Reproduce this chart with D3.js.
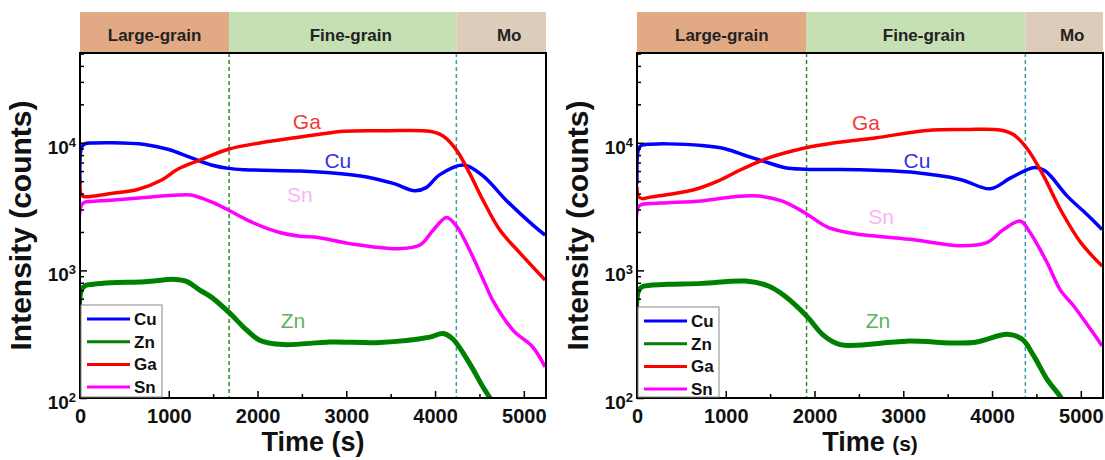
<!DOCTYPE html>
<meta charset="utf-8">
<script src="https://d3js.org/d3.v7.min.js"></script>
<style>
body { margin: 0; background: #fff; }
svg { display: block; font-family: 'Liberation Sans', Arial, sans-serif; }
.tick text { font-size: 20px; font-weight: bold; fill: #111; }
.band text { font-size: 17px; font-weight: bold; fill: #222; }
.legend text { font-size: 17px; font-weight: bold; fill: #111; }
.note { font-size: 21px; }
.axlabel { font-weight: bold; fill: #111; }
</style>
<svg width="1105" height="460"></svg>
<script>
// series names and colours shared by both panels
const seriesNames = ['Cu', 'Zn', 'Ga', 'Sn'];
const seriesColors = ['#0000ff', '#008000', '#ff0000', '#ff00ff'];
const noteColors = ['#3333dd', '#5db35d', '#f03a3a', '#f9b5f9'];
const zoneNames = ['Large-grain', 'Fine-grain', 'Mo'];
const zoneColors = ['#e2a985', '#c5e0b3', '#ddccba'];
const xTicks = [0, 1000, 2000, 3000, 4000, 5000];
const yTicks = [100, 1000, 10000];

// left panel, [time (s), counts]
const leftBounds = [1680, 4240];
const leftCu = [[0,4800],[20,9300],[60,9850],[150,9950],[350,10000],[730,9700],[990,8900],[1220,7800],[1480,6700],[1670,6300],[1860,6150],[2480,6000],[2850,5800],[3230,5400],[3530,4800],[3770,4200],[3900,4450],[4050,5600],[4320,6700],[4540,5500],[4800,3550],[5100,2270],[5240,1890]];
const leftZn = [[0,100],[15,700],[60,760],[150,780],[350,800],[730,813],[1070,850],[1200,820],[1350,700],[1480,617],[1690,460],[1860,350],[2030,282],[2290,262],[2820,275],[3380,272],[3940,300],[4090,320],[4200,290],[4390,186],[4540,122],[4620,100],[4660,90]];
const leftGa = [[0,5000],[15,3900],[50,3780],[150,3820],[350,4000],[650,4300],[920,5100],[1100,6200],[1370,7400],[1670,8900],[2040,10000],[2480,11100],[2680,11600],[2970,12300],[3420,12400],[3940,12300],[4090,11300],[4240,8800],[4390,5750],[4540,3550],[4730,2070],[4960,1360],[5240,840]];
const leftSn = [[0,100],[12,3200],[50,3420],[150,3480],[350,3550],[730,3730],[1100,3890],[1250,3890],[1480,3440],[1670,2970],[1930,2400],[2230,2000],[2480,1850],[2680,1810],[3040,1620],[3600,1480],[3830,1580],[3980,2070],[4130,2600],[4240,2230],[4390,1440],[4580,740],[4650,583],[4880,339],[5100,251],[5240,175]];

// right panel
const rightBounds = [1910, 4375];
const rightCu = [[0,4800],[25,9200],[70,9650],[150,9750],[350,9800],[730,9500],[990,8970],[1220,7950],[1480,6970],[1670,6370],[1890,6200],[2510,6150],[2680,6100],[3080,5890],[3640,5160],[3980,4360],[4210,5300],[4480,6400],[4600,6000],[4850,3800],[5070,2740],[5240,2090]];
const rightZn = [[0,100],[20,700],[70,750],[150,765],[350,777],[730,791],[1220,825],[1480,754],[1650,640],[1910,439],[2100,310],[2290,262],[3040,279],[3790,272],[4170,316],[4340,288],[4470,214],[4620,140],[4750,107],[4800,95]];
const rightGa = [[0,4500],[15,3800],[60,3650],[150,3750],[350,3930],[650,4300],[910,5000],[1180,6200],[1480,7600],[1890,9100],[2230,10000],[2680,10900],[3270,12500],[3700,12700],[4090,12600],[4240,11600],[4400,8900],[4580,5500],[4770,3000],[5000,1650],[5240,1080]];
const rightSn = [[0,100],[12,3100],[50,3280],[150,3340],[350,3390],[730,3500],[1100,3780],[1370,3820],[1630,3500],[1890,2830],[2160,2160],[2510,1910],[2680,1860],[3080,1750],[3640,1560],[3940,1650],[4130,2090],[4320,2430],[4430,1970],[4620,1150],[4770,700],[4920,526],[5110,345],[5240,256]];

// where the in-plot series names sit, [time, counts]
const leftNotes = [[2905,6340],[2400,353],[2556,12800],[2477,3430]];
const rightNotes = [[3155,6390],[2715,353],[2580,12700],[2750,2290]];

const panels = [
  {x0: 80, x1: 546, bounds: leftBounds, series: [leftCu, leftZn, leftGa, leftSn], notes: leftNotes, legendTop: 305},
  {x0: 637, x1: 1103, bounds: rightBounds, series: [rightCu, rightZn, rightGa, rightSn], notes: rightNotes, legendTop: 307}
];

const svg = d3.select('svg');
const plotTop = 53, plotBottom = 398, bandTop = 12;

panels.forEach((p, pi) => {
  const x = d3.scaleLinear().domain([0, 5250]).range([p.x0, p.x1]);
  const y = d3.scaleLog().domain([100, 50500]).range([plotBottom, plotTop]);
  const g = svg.append('g');

  // zone band above the plot
  const edges = [0, p.bounds[0], p.bounds[1], 5250];
  const band = g.append('g').attr('class', 'band');
  zoneNames.forEach((name, i) => {
    band.append('rect')
      .attr('x', x(edges[i])).attr('y', bandTop)
      .attr('width', x(edges[i + 1]) - x(edges[i])).attr('height', plotTop - bandTop)
      .attr('fill', zoneColors[i]);
    band.append('text')
      .attr('x', (x(edges[i]) + x(edges[i + 1])) / 2 + (i ? 8 : 0))
      .attr('y', 41)
      .attr('text-anchor', 'middle')
      .text(name);
  });

  const clipId = 'clip' + pi;
  g.append('clipPath').attr('id', clipId)
    .append('rect').attr('x', p.x0).attr('y', plotTop)
    .attr('width', p.x1 - p.x0).attr('height', plotBottom - plotTop);

  // boundary lines
  const dashColors = ['#2f8f2f', '#3a9ea6'];
  p.bounds.forEach((b, i) => {
    g.append('line')
      .attr('x1', x(b)).attr('x2', x(b)).attr('y1', plotTop).attr('y2', plotBottom)
      .attr('stroke', dashColors[i]).attr('stroke-width', 1.5)
      .attr('stroke-dasharray', '4,3');
  });

  const line = d3.line()
    .x(d => x(d[0]))
    .y(d => y(d[1]))
    .curve(d3.curveCatmullRom.alpha(0.5));

  const plot = g.append('g').attr('clip-path', `url(#${clipId})`);
  p.series.forEach((s, i) => {
    plot.append('path')
      .attr('d', line(s))
      .attr('fill', 'none')
      .attr('stroke', seriesColors[i])
      .attr('stroke-width', i === 1 ? 5 : 3.5)
      .attr('stroke-linejoin', 'round');
  });

  // series names inside the plot
  p.notes.forEach((n, i) => {
    g.append('text')
      .attr('class', 'note')
      .attr('x', x(n[0])).attr('y', y(n[1]))
      .attr('text-anchor', 'middle')
      .attr('fill', noteColors[i])
      .text(seriesNames[i]);
  });

  // axes
  g.append('g')
    .attr('transform', `translate(0, ${plotBottom})`)
    .call(d3.axisBottom(x).tickValues(xTicks).tickFormat(d3.format('d'))
      .tickSizeInner(-7).tickSizeOuter(0).tickPadding(11));
  g.append('g')
    .attr('transform', `translate(0, ${plotBottom})`)
    .call(d3.axisBottom(x).tickValues(d3.range(500, 5250, 1000)).tickSize(-4).tickFormat(''));

  const yAxis = g.append('g')
    .attr('transform', `translate(${p.x0}, 0)`)
    .call(d3.axisLeft(y).tickValues(yTicks).tickSizeInner(-7).tickSizeOuter(0).tickPadding(4));
  yAxis.selectAll('.tick text').each(function (d) {
    const t = d3.select(this).text('').attr('dy', '0.55em').style('font-size', '19px');
    t.append('tspan').text('10');
    t.append('tspan').attr('dy', -7).style('font-size', '13px').text(Math.round(Math.log10(d)));
  });
  const minors = [];
  [100, 1000, 10000].forEach(dec => d3.range(2, 10).forEach(k => { if (dec * k < 50500) minors.push(dec * k); }));
  g.append('g')
    .attr('transform', `translate(${p.x0}, 0)`)
    .call(d3.axisLeft(y).tickValues(minors).tickSize(-4).tickFormat(''));

  g.selectAll('.domain').remove();
  g.selectAll('.tick line').attr('stroke', '#000').attr('stroke-width', 1.5);

  // frame
  g.append('rect')
    .attr('x', p.x0).attr('y', plotTop)
    .attr('width', p.x1 - p.x0).attr('height', plotBottom - plotTop)
    .attr('fill', 'none').attr('stroke', '#000').attr('stroke-width', 2);

  // legend
  const lg = g.append('g').attr('class', 'legend');
  lg.append('rect')
    .attr('x', p.x0 + 1).attr('y', p.legendTop)
    .attr('width', 81).attr('height', plotBottom - p.legendTop - 1)
    .attr('fill', '#fff').attr('stroke', '#888').attr('stroke-width', 1);
  seriesNames.forEach((name, i) => {
    const yy = p.legendTop + 14 + i * 22.7;
    lg.append('line')
      .attr('x1', p.x0 + 7).attr('x2', p.x0 + 50)
      .attr('y1', yy).attr('y2', yy)
      .attr('stroke', seriesColors[i]).attr('stroke-width', 3);
    lg.append('text')
      .attr('x', p.x0 + 54).attr('y', yy + 6)
      .text(name);
  });

  // axis titles
  const xt = g.append('text')
    .attr('class', 'axlabel')
    .attr('x', (p.x0 + p.x1) / 2).attr('y', 451)
    .attr('text-anchor', 'middle')
    .style('font-size', '27px');
  xt.append('tspan').text('Time ');
  xt.append('tspan').style('font-size', pi ? '21px' : '27px').text('(s)');

  g.append('text')
    .attr('class', 'axlabel')
    .attr('transform', `translate(${p.x0 - 49}, ${(plotTop + plotBottom) / 2}) rotate(-90)`)
    .attr('text-anchor', 'middle')
    .style('font-size', '30px')
    .text('Intensity (counts)');
});
</script>
